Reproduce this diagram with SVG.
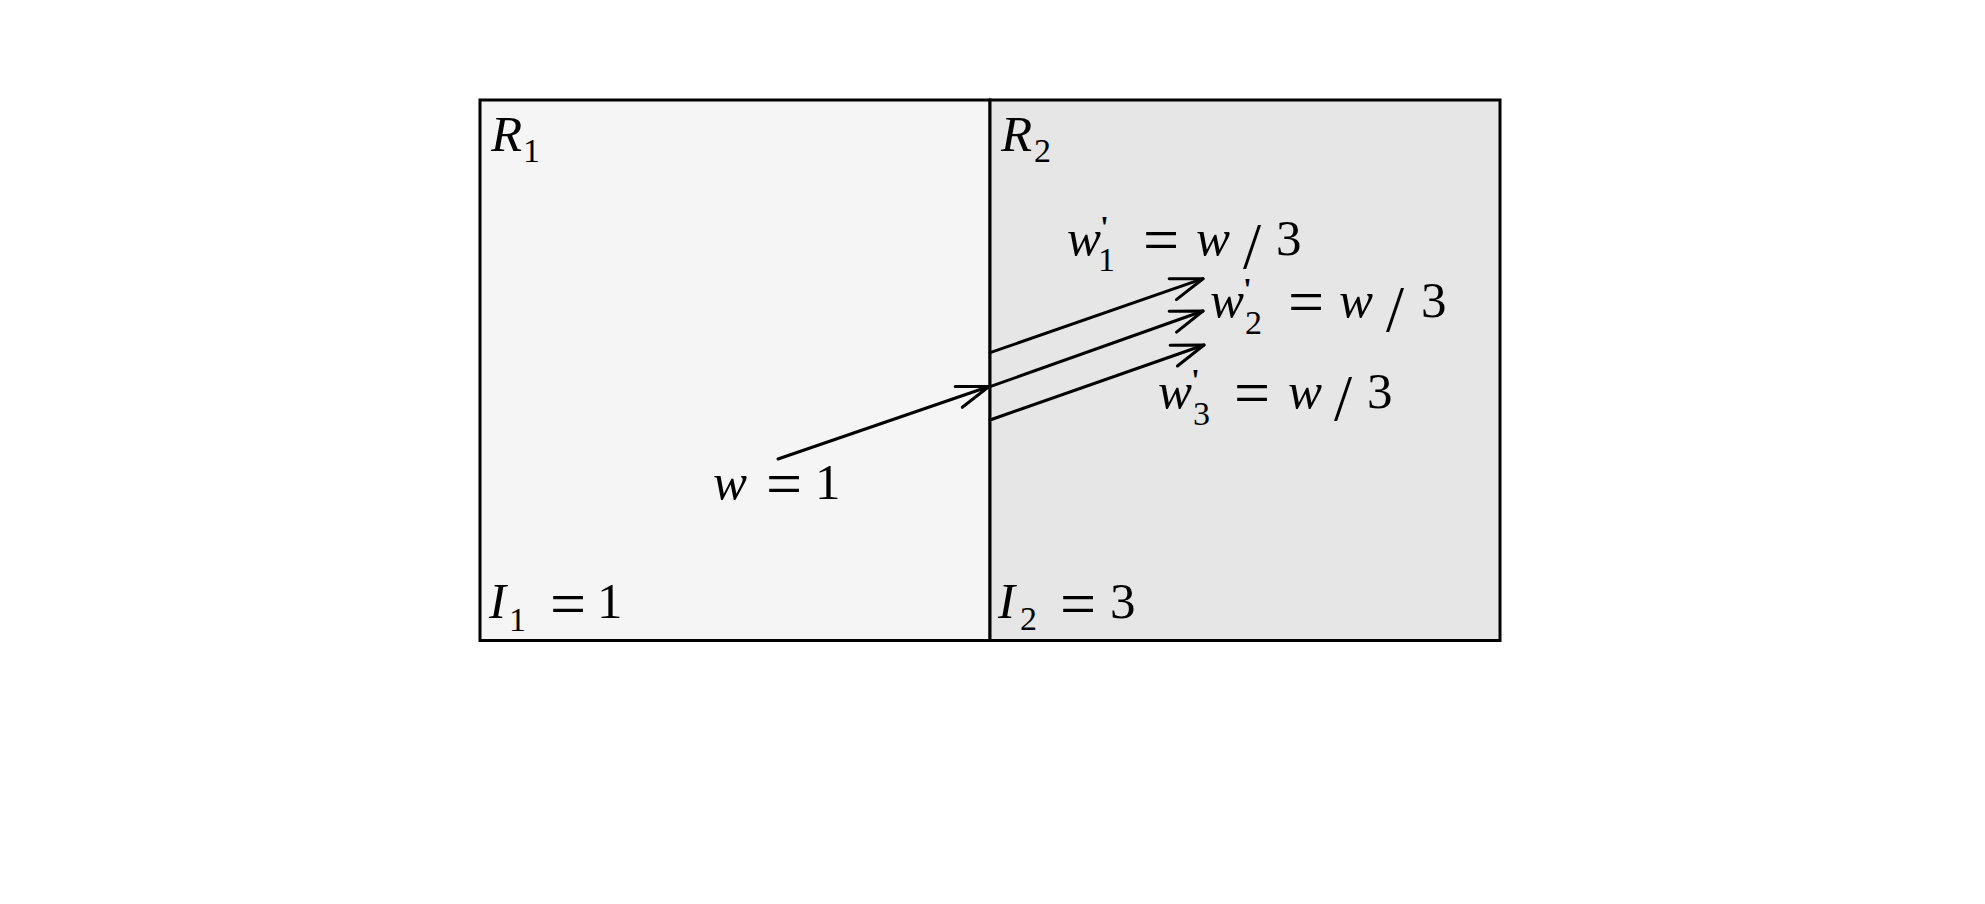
<svg xmlns="http://www.w3.org/2000/svg" width="1985" height="904" viewBox="0 0 1985 904">
<style>
  .t { font-family: "Liberation Serif", "Times New Roman", serif; fill: #000; font-size: 51px; }
  .i { font-style: italic; }
  .s { font-size: 34px; font-style: normal; }
  .eq { font-size: 64px; font-style: normal; }
  .n { font-style: normal; }
  .sl { font-size: 65px; font-style: normal; }
  .pr { font-size: 32px; font-style: normal; font-weight: bold; }
  .box { stroke: #000; stroke-width: 3; }
  .arr { stroke: #000; stroke-width: 3; fill: none; stroke-linecap: round; marker-end: url(#head); }
</style>
<defs>
  <marker id="head" markerUnits="userSpaceOnUse" orient="auto" viewBox="-40 -20 45 40" markerWidth="45" markerHeight="40" refX="0" refY="0" overflow="visible">
    <path d="M -32 -11 L 0 0 L -32 11" fill="none" stroke="#000" stroke-width="3" stroke-linecap="round" stroke-linejoin="round"/>
  </marker>
</defs>
<rect width="1985" height="904" fill="#ffffff"/>

<g id="region1">
  <rect class="box" x="480" y="100" width="510" height="540.5" fill="#f5f5f5"/>
  <text class="t i" x="491" y="151">R<tspan class="s" x="523" y="162">1</tspan></text>
  <text class="t i" x="489" y="618">I<tspan class="s" x="509" y="631">1</tspan><tspan class="eq" x="550" y="625">=</tspan><tspan class="n" x="597" y="618">1</tspan></text>
</g>

<g id="region2">
  <rect class="box" x="990" y="100" width="510" height="540.5" fill="#e6e6e6"/>
  <text class="t i" x="1001" y="151">R<tspan class="s" x="1034" y="162">2</tspan></text>
  <text class="t i" x="998" y="618">I<tspan class="s" x="1020" y="630">2</tspan><tspan class="eq" x="1060" y="625">=</tspan><tspan class="n" x="1110" y="618">3</tspan></text>
</g>

<g id="connectors">
  <line class="arr" x1="778" y1="459" x2="989" y2="386.5"/>
  <line class="arr" x1="990" y1="352.7" x2="1203" y2="278.7"/>
  <line class="arr" x1="990" y1="386.7" x2="1203" y2="311"/>
  <line class="arr" x1="990" y1="420" x2="1204" y2="345"/>
</g>

<g id="label-w">
  <text class="t i" x="713" y="499">w<tspan class="eq" x="766" y="505">=</tspan><tspan class="n" x="815" y="499">1</tspan></text>
</g>

<g id="label-w1">
  <text class="t i" x="1067" y="255">w<tspan class="pr" x="1100" y="238">'</tspan><tspan class="s" x="1098" y="271">1</tspan><tspan class="eq" x="1143" y="261">=</tspan><tspan x="1196" y="255">w</tspan><tspan class="sl" x="1243" y="268">/</tspan><tspan class="n" x="1276" y="255">3</tspan></text>
</g>

<g id="label-w2">
  <text class="t i" x="1210" y="317">w<tspan class="pr" x="1243" y="300">'</tspan><tspan class="s" x="1245" y="334">2</tspan><tspan class="eq" x="1288" y="323">=</tspan><tspan x="1339" y="317">w</tspan><tspan class="sl" x="1386" y="331">/</tspan><tspan class="n" x="1421" y="317">3</tspan></text>
</g>

<g id="label-w3">
  <text class="t i" x="1158" y="408">w<tspan class="pr" x="1191" y="391">'</tspan><tspan class="s" x="1193" y="425">3</tspan><tspan class="eq" x="1234" y="414">=</tspan><tspan x="1288" y="408">w</tspan><tspan class="sl" x="1334" y="420">/</tspan><tspan class="n" x="1367" y="408">3</tspan></text>
</g>
</svg>
